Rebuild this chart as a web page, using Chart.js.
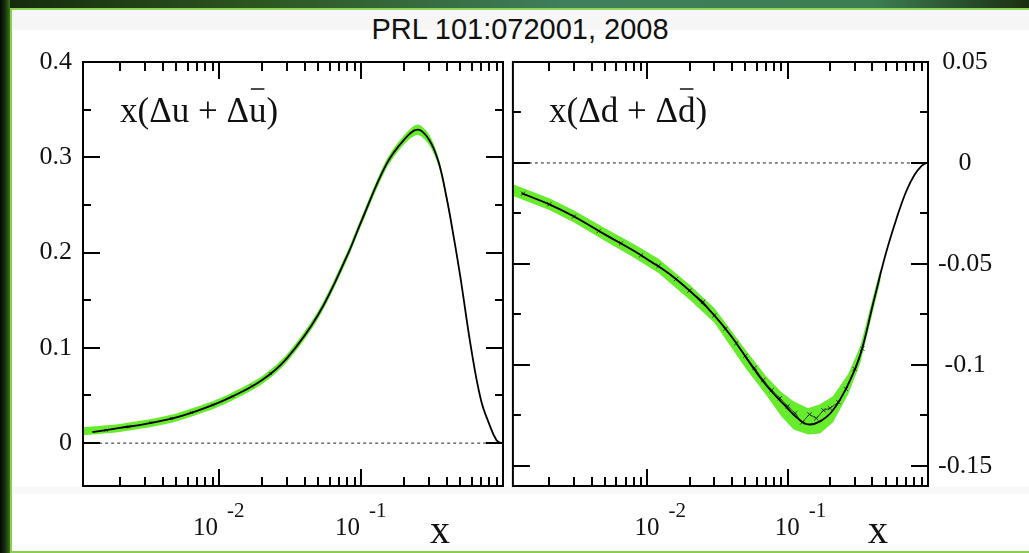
<!DOCTYPE html>
<html>
<head>
<meta charset="utf-8" />
<script src="https://cdn.jsdelivr.net/npm/chart.js"></script>
<style>
  html, body { margin: 0; padding: 0; }
  body {
    width: 1029px; height: 553px; overflow: hidden; position: relative;
    background: #fff; font-family: "Liberation Sans", Arial, sans-serif;
  }
  .edge-top { position: absolute; left: 0; top: 0; width: 1029px; height: 8px;
    background: linear-gradient(to right, #142a0c, #2c5620 25%, #3f7f5c 55%, #3d7d52 85%, #1a2e10); }
  .edge-top-line { position: absolute; left: 10px; top: 8px; width: 1019px; height: 2px; background: #8fd35a; }
  .edge-left { position: absolute; left: 0; top: 0; width: 10px; height: 553px;
    background: linear-gradient(to right, #030603, #1b3410 55%, #3c7420); }
  .edge-left-line { position: absolute; left: 10px; top: 8px; width: 2px; height: 545px; background: #86cf4c; }
  .edge-bottom-line { position: absolute; left: 10px; top: 551px; width: 1019px; height: 2px; background: #86cf4c; }
  .band-top { position: absolute; left: 12px; top: 10px; width: 1017px; height: 20px; background: #f6f6f6; }
  .band-low { position: absolute; left: 12px; top: 487px; width: 1017px; height: 7px; background: #f8f8f8; }
  #title { position: absolute; left: 0; top: 15px; width: 1040px; text-align: center;
    font-size: 29px; line-height: 29px; color: #111; }
  #left { position: absolute; left: 0; top: 0; }
  #right { position: absolute; left: 508px; top: 0; }
</style>
</head>
<body>
<div class="edge-top"></div>
<div class="edge-left"></div>
<div class="band-top"></div>
<div class="band-low"></div>
<div class="edge-top-line"></div>
<div class="edge-left-line"></div>
<div class="edge-bottom-line"></div>
<div id="title">PRL 101:072001, 2008</div>
<canvas id="left" width="508" height="553"></canvas>
<canvas id="right" width="521" height="553"></canvas>

<script>
// x(Δu + Δū) central curve
const uX = [0.00128, 0.002, 0.003, 0.005, 0.008, 0.012, 0.02, 0.03, 0.05, 0.08, 0.1, 0.15,
  0.2, 0.25, 0.3, 0.35, 0.4, 0.45, 0.5, 0.6, 0.7, 0.8, 0.9, 0.97];
const uY = [0.0115, 0.016, 0.020, 0.027, 0.037, 0.048, 0.066, 0.089, 0.135, 0.197, 0.232, 0.292,
  0.318, 0.329, 0.319, 0.296, 0.258, 0.216, 0.175, 0.097, 0.045, 0.02, 0.003, 0];
// x(Δu + Δū) uncertainty band
const uBandX = [0.0011, 0.002, 0.003, 0.005, 0.008, 0.012, 0.02, 0.03, 0.05, 0.08, 0.1, 0.15,
  0.2, 0.25, 0.3, 0.35, 0.4, 0.45];
const uBandHi = [0.0167, 0.0202, 0.0242, 0.0312, 0.0412, 0.0522, 0.0702, 0.0932, 0.1392, 0.2012,
  0.2362, 0.2965, 0.3228, 0.3345, 0.3245, 0.3005, 0.2615, 0.2185];
const uBandLo = [0.0083, 0.0118, 0.0158, 0.0228, 0.0328, 0.0438, 0.0618, 0.0848, 0.1308, 0.1928,
  0.2278, 0.2875, 0.3132, 0.3235, 0.3135, 0.2915, 0.2545, 0.2135];
// x(Δu + Δū) sample points
const uPtsX = [0.0016, 0.0023, 0.0033, 0.0046, 0.0064, 0.009, 0.0125, 0.017, 0.023];
const uPtsY = [0.0135, 0.017, 0.0215, 0.026, 0.032, 0.040, 0.049, 0.060, 0.073];

// x(Δd + Δd̄) central curve
const dX = [0.00127, 0.002, 0.003, 0.005, 0.008, 0.0105, 0.015, 0.0228, 0.03, 0.04, 0.0544, 0.07,
  0.0936, 0.12, 0.14, 0.17, 0.21, 0.27, 0.33, 0.41, 0.5, 0.6, 0.7, 0.8, 0.9, 0.97];
const dY = [-0.015, -0.0205, -0.0265, -0.0355, -0.0435, -0.0487, -0.056, -0.0669, -0.0755, -0.0862,
  -0.0997, -0.110, -0.1195, -0.127, -0.1295, -0.128, -0.1225, -0.1096, -0.0948, -0.0685, -0.045,
  -0.027, -0.014, -0.006, -0.0015, 0];
// x(Δd + Δd̄) uncertainty band
const dBandX = [0.0011, 0.002, 0.003, 0.005, 0.008, 0.012, 0.02, 0.03, 0.05, 0.07, 0.09, 0.11,
  0.14, 0.17, 0.21, 0.27, 0.33, 0.41, 0.46];
const dBandHi = [-0.0105, -0.0175, -0.0235, -0.0323, -0.0402, -0.0475, -0.0603, -0.0718, -0.0925,
  -0.1055, -0.1135, -0.118, -0.1215, -0.1195, -0.1155, -0.1045, -0.0905, -0.065, -0.052];
const dBandLo = [-0.0163, -0.0233, -0.0295, -0.0387, -0.0468, -0.0545, -0.0677, -0.0792, -0.1015,
  -0.1148, -0.1255, -0.132, -0.1345, -0.134, -0.1285, -0.1146, -0.099, -0.072, -0.058];
// x(Δd + Δd̄) sample points
const dPtsX = [0.0013, 0.002, 0.003, 0.0045, 0.0065, 0.009, 0.012, 0.016, 0.02, 0.025, 0.03,
  0.036, 0.043, 0.05, 0.058, 0.067, 0.077, 0.088, 0.1, 0.113, 0.127, 0.143, 0.16, 0.18, 0.2,
  0.23, 0.26, 0.3, 0.34];
const dPtsY = [-0.0152, -0.0205, -0.0265, -0.0337, -0.0398, -0.0458, -0.051, -0.0575, -0.0632,
  -0.0688, -0.0755, -0.0822, -0.0893, -0.0955, -0.1015, -0.1075, -0.1125, -0.1165, -0.1205,
  -0.124, -0.1285, -0.1245, -0.1265, -0.1225, -0.1215, -0.1185, -0.112, -0.102, -0.092];

// axis ticks
const xMajorTicks = [0.01, 0.1];
const xMinorTicks = [0.002, 0.003, 0.004, 0.005, 0.006, 0.007, 0.008, 0.009,
  0.02, 0.03, 0.04, 0.05, 0.06, 0.07, 0.08, 0.09,
  0.2, 0.3, 0.4, 0.5, 0.6, 0.7, 0.8, 0.9];
const xLabelValues = [0.01, 0.1];
const xLabelExps = ['-2', '-1'];
const uYTicks = [0, 0.1, 0.2, 0.3, 0.4];
const uYMinor = [0.05, 0.15, 0.25, 0.35];
const dYTicks = [0.05, 0, -0.05, -0.1, -0.15];
const dYMinor = [0.025, -0.025, -0.075, -0.125];
const zeroLineX = [0.00143, 0.97];

const pts = (xs, ys) => xs.map((x, i) => ({ x: x, y: ys[i] }));
const GREEN = '#66ec2c';
const SERIF = '"Liberation Serif", "Times New Roman", serif';

// frame, inward ticks, 10^n labels, axis title and panel label
const frameTicks = {
  id: 'frameTicks',
  afterDatasetsDraw(chart, args, o) {
    const { ctx, chartArea: a } = chart;
    const xs = chart.scales.x, ys = chart.scales.y;
    ctx.save();
    ctx.strokeStyle = '#000';
    ctx.lineWidth = 2;
    ctx.strokeRect(a.left, a.top, a.right - a.left, a.bottom - a.top);
    ctx.beginPath();
    const xt = (v, len) => {
      const p = Math.round(xs.getPixelForValue(v));
      ctx.moveTo(p, a.bottom); ctx.lineTo(p, a.bottom - len);
      ctx.moveTo(p, a.top); ctx.lineTo(p, a.top + len);
    };
    const yt = (v, len) => {
      const p = Math.round(ys.getPixelForValue(v));
      ctx.moveTo(a.left, p); ctx.lineTo(a.left + len, p);
      ctx.moveTo(a.right, p); ctx.lineTo(a.right - len, p);
    };
    xMajorTicks.forEach(v => xt(v, 17));
    xMinorTicks.forEach(v => xt(v, 9));
    o.yMajor.forEach(v => yt(v, 17));
    o.yMinor.forEach(v => yt(v, 8));
    ctx.stroke();

    ctx.fillStyle = '#111';
    ctx.textBaseline = 'alphabetic';
    ctx.textAlign = 'left';
    xLabelValues.forEach((v, i) => {
      const p = xs.getPixelForValue(v) + o.labelShift;
      ctx.font = '25px ' + SERIF;
      ctx.fillText('10', p, 535);
      const w = ctx.measureText('10').width;
      ctx.font = '21px ' + SERIF;
      ctx.fillText(xLabelExps[i], p + w + 9, 517);
    });
    ctx.font = '40px ' + SERIF;
    ctx.fillText('x', o.titleX, 543);

    // panel label, with a bar over the antiquark letter
    ctx.font = '35px ' + SERIF;
    const L = o.label;
    ctx.fillText(L.head, L.x, 122);
    const w1 = ctx.measureText(L.head).width;
    ctx.fillText(L.q, L.x + w1, 122);
    const wq = ctx.measureText(L.q).width;
    ctx.fillText(L.tail, L.x + w1 + wq, 122);
    ctx.lineWidth = 1.5;
    ctx.strokeStyle = '#111';
    ctx.beginPath();
    ctx.moveTo(L.x + w1 + 2, 89);
    ctx.lineTo(L.x + w1 + wq - 2, 89);
    ctx.stroke();
    ctx.restore();
  }
};

function panel(id, d) {
  return new Chart(document.getElementById(id), {
    type: 'line',
    data: {
      datasets: [
        { data: pts(d.cx, d.cy), borderColor: '#000', borderWidth: 1.8, pointRadius: 0,
          tension: 0.4, fill: false, order: 0 },
        { data: pts(d.px, d.py), borderColor: '#222', borderWidth: d.ptsLine ? 0.8 : 0,
          showLine: d.ptsLine, pointStyle: 'crossRot', pointRadius: d.ptsR,
          pointBorderWidth: 0.9, pointBorderColor: '#222', fill: false, order: 1 },
        { data: pts(zeroLineX, [0, 0]), borderColor: '#222', borderWidth: 1,
          borderDash: [3, 3], pointRadius: 0, fill: false, order: 2 },
        { data: pts(d.bx, d.blo), borderWidth: 0, pointRadius: 0, fill: false,
          tension: d.bandTension, order: 4 },
        { data: pts(d.bx, d.bhi), borderWidth: 0, pointRadius: 0, backgroundColor: GREEN,
          fill: '-1', tension: d.bandTension, order: 3 }
      ]
    },
    options: {
      responsive: false,
      animation: false,
      layout: { padding: d.padding },
      plugins: {
        legend: { display: false },
        tooltip: { enabled: false },
        frameTicks: { yMajor: d.yTicks, yMinor: d.yMinor, labelShift: d.labelShift,
          titleX: d.titleX, label: d.label }
      },
      scales: {
        x: { type: 'logarithmic', min: 0.0011, max: 1, display: false },
        y: {
          position: d.yPos,
          min: d.yMin, max: d.yMax,
          afterFit: s => { s.width = d.yWidth; },
          afterBuildTicks: s => { s.ticks = d.yTicks.map(v => ({ value: v })); },
          grid: { display: false, drawTicks: false },
          border: { display: false },
          ticks: { padding: d.yPad, color: '#111', autoSkip: false, crossAlign: d.yAlign,
            font: { family: SERIF, size: 26 }, callback: v => String(v) }
        }
      }
    },
    plugins: [frameTicks]
  });
}

panel('left', {
  cx: uX, cy: uY, px: uPtsX, py: uPtsY, ptsLine: false, ptsR: 2,
  bx: uBandX, bhi: uBandHi, blo: uBandLo, bandTension: 0.3,
  yTicks: uYTicks, yMinor: uYMinor, yMin: -0.045, yMax: 0.4,
  yPos: 'left', yWidth: 70, yPad: 11, yAlign: 'near',
  padding: { left: 13, right: 5, top: 62, bottom: 67 },
  labelShift: -26, titleX: 430,
  label: { head: 'x(\u0394u + \u0394', q: 'u', tail: ')', x: 120 }
});

panel('right', {
  cx: dX, cy: dY, px: dPtsX, py: dPtsY, ptsLine: true, ptsR: 3,
  bx: dBandX, bhi: dBandHi, blo: dBandLo, bandTension: 0,
  yTicks: dYTicks, yMinor: dYMinor, yMin: -0.16, yMax: 0.05,
  yPos: 'right', yWidth: 80, yPad: 10, yAlign: 'center',
  padding: { left: 4, right: 21, top: 62, bottom: 67 },
  labelShift: -13, titleX: 360,
  label: { head: 'x(\u0394d + \u0394', q: 'd', tail: ')', x: 41 }
});
</script>
</body>
</html>
